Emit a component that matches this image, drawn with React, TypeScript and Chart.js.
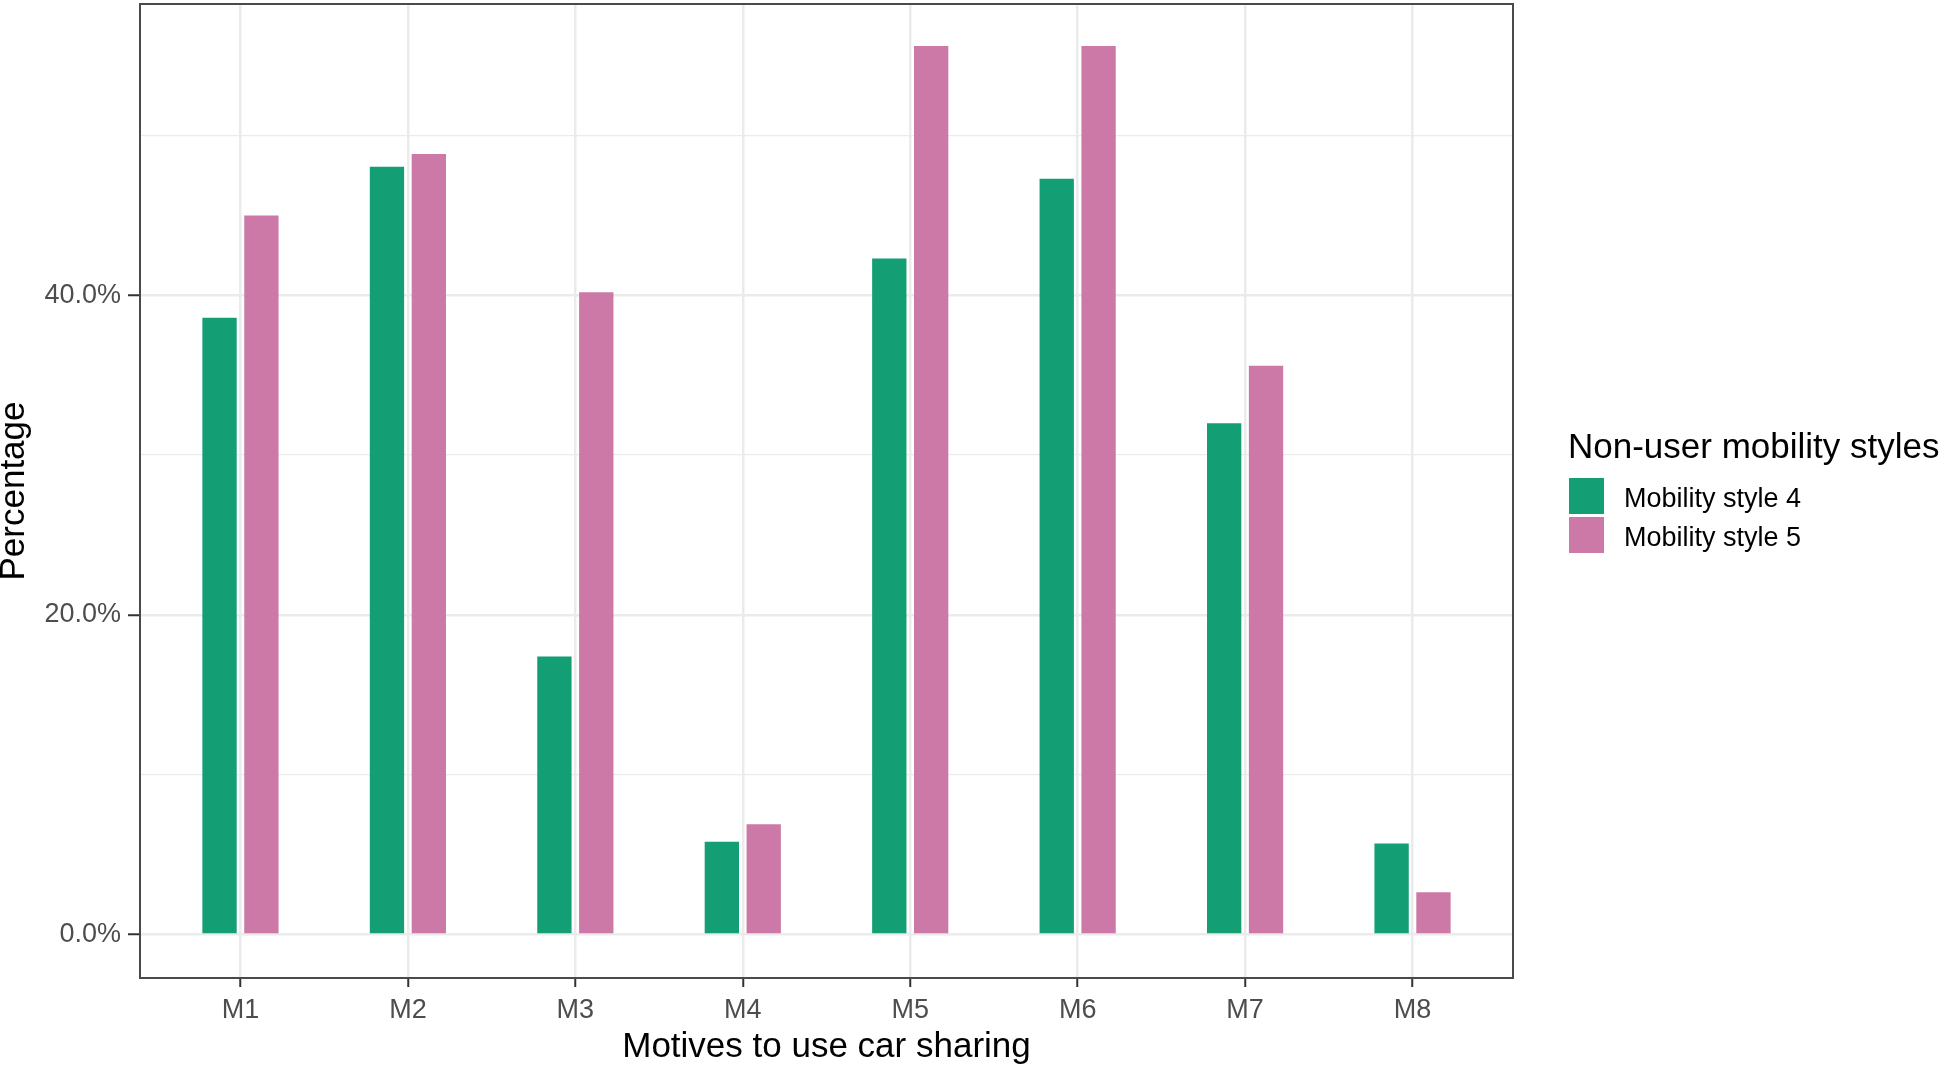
import React, { useEffect, useRef } from "react";
import { Chart, registerables } from "chart.js";

Chart.register(...registerables);

const categories = ["M1", "M2", "M3", "M4", "M5", "M6", "M7", "M8"];
const style4 = [38.6, 48.05, 17.4, 5.8, 42.3, 47.3, 32.0, 5.7];
const style5 = [45.0, 48.85, 40.2, 6.9, 55.6, 55.6, 35.6, 2.65];
const seriesNames = ["Mobility style 4", "Mobility style 5"];
const seriesColors = ["#149E74", "#CC79A7"];
const yTicks = [0, 10, 20, 30, 40, 50];
const legendTitle = "Non-user mobility styles";
const xTitle = "Motives to use car sharing";
const yTitle = "Percentage";

const FONT = '"Liberation Sans", Arial, Helvetica, sans-serif';

const panelBorder = {
  id: "panelBorder",
  afterDatasetsDraw(chart: any) {
    const { ctx, chartArea } = chart;
    ctx.save();
    ctx.strokeStyle = "#4a4a4a";
    ctx.lineWidth = 2;
    ctx.strokeRect(chartArea.left, chartArea.top, chartArea.right - chartArea.left, chartArea.bottom - chartArea.top);
    ctx.restore();
  },
};

const customLegend = {
  id: "customLegend",
  afterDraw(chart: any) {
    const { ctx, chartArea } = chart;
    const x0 = chartArea.right + 55;
    ctx.save();
    ctx.fillStyle = "#000";
    ctx.font = `35px ${FONT}`;
    ctx.textBaseline = "alphabetic";
    ctx.textAlign = "left";
    ctx.fillText(legendTitle, x0, 458);
    chart.data.datasets.forEach((ds: any, i: number) => {
      const top = 478 + i * 39;
      ctx.fillStyle = ds.backgroundColor;
      ctx.fillRect(x0 + 1, top, 35, 36);
      ctx.fillStyle = "#000";
      ctx.font = `27px ${FONT}`;
      ctx.fillText(ds.label, x0 + 56, top + 29);
    });
    ctx.restore();
  },
};

export default function App() {
  const ref = useRef<HTMLCanvasElement | null>(null);
  useEffect(() => {
    document.body.style.margin = "0";
    if (!ref.current) return;
    Chart.defaults.font.family = FONT;
    const chart = new Chart(ref.current, {
      type: "bar",
      data: {
        datasets: [style4, style5].map((vals, si) => ({
          label: seriesNames[si],
          data: vals.map((v, i) => ({ x: i, y: v })),
          backgroundColor: seriesColors[si],
          borderWidth: 0,
          categoryPercentage: 0.5,
          barPercentage: 0.82,
        })),
      },
      options: {
        responsive: false,
        animation: false,
        layout: { padding: { left: 0, top: 4, right: 433, bottom: 0 } },
        plugins: { legend: { display: false }, tooltip: { enabled: false } },
        scales: {
          x: {
            type: "linear",
            min: -0.6,
            max: 7.6,
            offset: false,
            afterBuildTicks: (s: any) => {
              s.ticks = categories.map((_, i) => ({ value: i }));
            },
            afterFit: (s: any) => {
              s.height = 89;
              s.paddingLeft = 0;
              s.paddingRight = 0;
            },
            ticks: {
              autoSkip: false,
              maxRotation: 0,
              padding: 7,
              color: "#4D4D4D",
              font: { size: 27 },
              callback: (v: any) => categories[v] ?? "",
            },
            grid: {
              offset: false,
              color: "#EBEBEB",
              lineWidth: 2.5,
              tickLength: 9,
              tickColor: "#333333",
              tickWidth: 2,
            },
            border: { display: false },
            title: {
              display: true,
              text: xTitle,
              color: "#000",
              font: { size: 35, lineHeight: 1.14 },
              padding: { top: 0, bottom: 0 },
            },
          },
          y: {
            type: "linear",
            min: -2.72,
            max: 58.23,
            afterBuildTicks: (s: any) => {
              s.ticks = yTicks.map((v) => ({ value: v }));
            },
            afterFit: (s: any) => {
              s.width = 140;
              s.paddingTop = 0;
              s.paddingBottom = 0;
            },
            ticks: {
              padding: 7,
              color: "#4D4D4D",
              font: { size: 27 },
              callback: (v: any) => (v % 20 === 0 ? Number(v).toFixed(1) + "%" : ""),
            },
            grid: {
              color: "#EBEBEB",
              lineWidth: (c: any) => (c.tick && c.tick.value % 20 === 0 ? 2.5 : 1.3),
              tickLength: 12,
              tickColor: (c: any) => (c.tick && c.tick.value % 20 === 0 ? "#333333" : "rgba(0,0,0,0)"),
              tickWidth: 2,
            },
            border: { display: false },
            title: {
              display: true,
              text: yTitle,
              color: "#000",
              font: { size: 35, lineHeight: 0.8 },
              padding: 0,
            },
          },
        },
      },
      plugins: [panelBorder, customLegend],
    });
    return () => chart.destroy();
  }, []);
  return (
    <div style={{ width: 1946, height: 1067 }}>
      <canvas ref={ref} width={1946} height={1067} style={{ display: "block" }} />
    </div>
  );
}
